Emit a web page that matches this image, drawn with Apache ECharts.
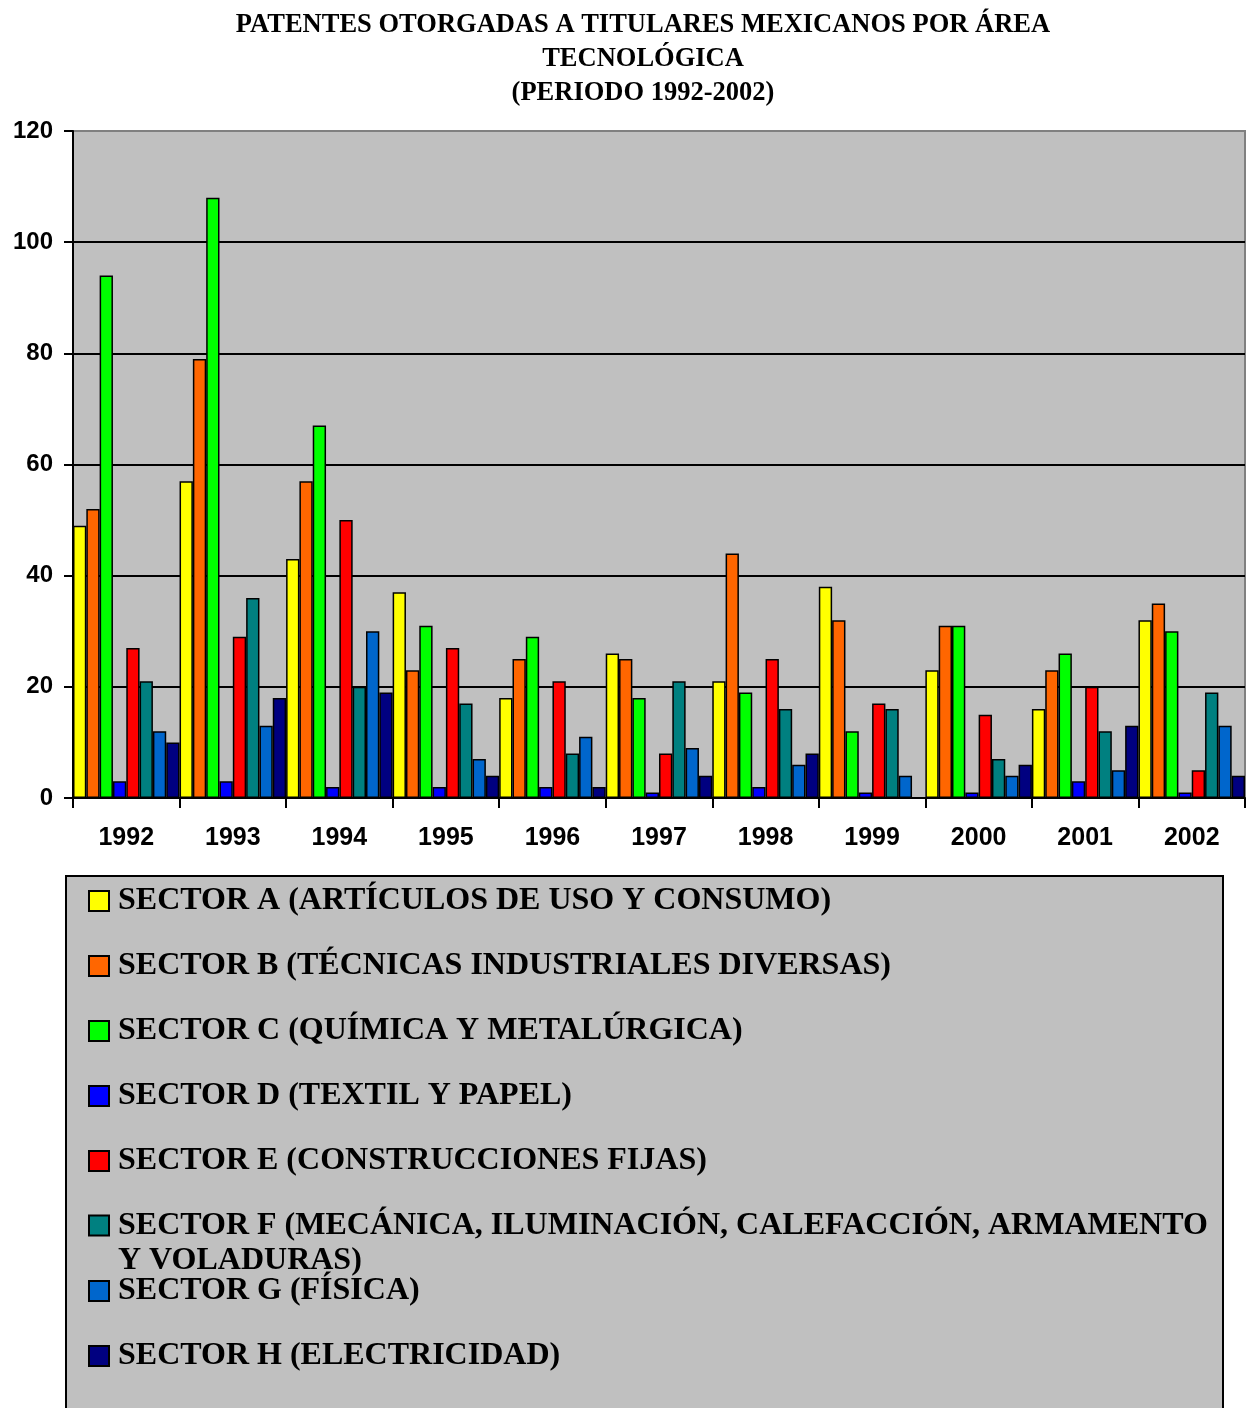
<!DOCTYPE html>
<html>
<head>
<meta charset="utf-8">
<script src="https://cdn.jsdelivr.net/npm/echarts@6/dist/echarts.min.js"></script>
<style>
  html, body { margin: 0; padding: 0; background: #ffffff; }
  #chart { width: 1249px; height: 1408px; }
</style>
</head>
<body>
<div id="chart"></div>
<script>
// Patents granted to Mexican holders, by technology sector, 1992-2002
const years = ['1992', '1993', '1994', '1995', '1996', '1997', '1998', '1999', '2000', '2001', '2002'];

const sectorNames = [
  'SECTOR A (ARTÍCULOS DE USO Y CONSUMO)',
  'SECTOR B (TÉCNICAS INDUSTRIALES DIVERSAS)',
  'SECTOR C (QUÍMICA Y METALÚRGICA)',
  'SECTOR D (TEXTIL Y PAPEL)',
  'SECTOR E (CONSTRUCCIONES FIJAS)',
  'SECTOR F (MECÁNICA, ILUMINACIÓN, CALEFACCIÓN, ARMAMENTO Y VOLADURAS)',
  'SECTOR G (FÍSICA)',
  'SECTOR H (ELECTRICIDAD)'
];

const sectorA = [49, 57, 43, 37, 18, 26, 21, 38, 23, 16, 32];
const sectorB = [52, 79, 57, 23, 25, 25, 44, 32, 31, 23, 35];
const sectorC = [94, 108, 67, 31, 29, 18, 19, 12, 31, 26, 30];
const sectorD = [3, 3, 2, 2, 2, 1, 2, 1, 1, 3, 1];
const sectorE = [27, 29, 50, 27, 21, 8, 25, 17, 15, 20, 5];
const sectorF = [21, 36, 20, 17, 8, 21, 16, 16, 7, 12, 19];
const sectorG = [12, 13, 30, 7, 11, 9, 6, 4, 4, 5, 13];
const sectorH = [10, 18, 19, 4, 2, 4, 8, 0, 6, 13, 4];

const sectorValues = [sectorA, sectorB, sectorC, sectorD, sectorE, sectorF, sectorG, sectorH];
const sectorColors = ['#FFFF00', '#FF6600', '#00FF00', '#0000FF', '#FF0000', '#008080', '#0066CC', '#000080'];

const yTicks = { min: 0, max: 120, step: 20 };

const chart = echarts.init(document.getElementById('chart'), null, { renderer: 'canvas' });

const serif = '"Liberation Serif", "Times New Roman", serif';
const sans = '"Liberation Sans", Arial, sans-serif';

// One legend block per sector so every row sits on its own fixed line
const legendRowCenters = [898, 963, 1028, 1093, 1158, 1223, 1288, 1353];
const legendFont = 32;
const legends = sectorNames.map((name, i) => {
  const wrapped = i === 5;
  return {
    data: [name],
    orient: 'vertical',
    left: 88,
    top: wrapped ? legendRowCenters[i] - 50 : legendRowCenters[i] - 13,
    padding: 0,
    itemWidth: 20,
    itemHeight: 20,
    icon: 'rect',
    selectedMode: false,
    // the long sector F label wraps; a leading blank line keeps its first line level with the swatch
    formatter: wrapped
      ? (n) => '\n' + n.replace(' Y VOLADURAS)', '\nY VOLADURAS)')
      : undefined,
    textStyle: {
      fontFamily: serif,
      fontWeight: 'bold',
      fontSize: legendFont,
      color: '#000000',
      lineHeight: wrapped ? 35 : undefined,
      padding: [0, 0, 0, 4]
    }
  };
});

const option = {
  animation: false,
  backgroundColor: '#ffffff',
  title: {
    text: 'PATENTES OTORGADAS A TITULARES MEXICANOS POR ÁREA\nTECNOLÓGICA\n(PERIODO 1992-2002)',
    left: 643,
    top: 8,
    padding: 0,
    textAlign: 'center',
    textStyle: {
      fontFamily: serif,
      fontWeight: 'bold',
      fontSize: 26.5,
      lineHeight: 34,
      color: '#000000'
    }
  },
  graphic: [{
    type: 'rect',
    z: 0,
    shape: { x: 66, y: 876, width: 1157, height: 600 },
    style: { fill: '#C0C0C0', stroke: '#000000', lineWidth: 2 }
  }],
  legend: legends,
  grid: {
    left: 73,
    right: 4,
    top: 131,
    bottom: 610,
    show: true,
    backgroundColor: '#C0C0C0',
    borderColor: '#808080',
    borderWidth: 2
  },
  xAxis: {
    type: 'category',
    data: years,
    boundaryGap: true,
    axisLine: { show: true, lineStyle: { color: '#000000', width: 2 } },
    axisTick: { show: true, length: 10, lineStyle: { color: '#000000', width: 2 } },
    axisLabel: {
      margin: 28,
      fontFamily: sans,
      fontWeight: 'bold',
      fontSize: 25,
      color: '#000000'
    },
    splitLine: { show: false }
  },
  yAxis: {
    type: 'value',
    min: yTicks.min,
    max: yTicks.max,
    interval: yTicks.step,
    axisLine: { show: true, lineStyle: { color: '#000000', width: 2 } },
    axisTick: { show: true, length: 9, lineStyle: { color: '#000000', width: 2 } },
    axisLabel: {
      margin: 20,
      fontFamily: sans,
      fontWeight: 'bold',
      fontSize: 24,
      color: '#000000'
    },
    splitLine: {
      show: true,
      showMinLine: false,
      showMaxLine: false,
      lineStyle: { color: '#000000', width: 2 }
    }
  },
  series: sectorNames.map((name, i) => ({
    name: name,
    type: 'bar',
    data: sectorValues[i],
    barGap: '0%',
    barCategoryGap: '0%',
    itemStyle: {
      color: sectorColors[i],
      borderColor: '#000000',
      borderWidth: 1.5
    }
  }))
};

chart.setOption(option);
</script>
</body>
</html>
